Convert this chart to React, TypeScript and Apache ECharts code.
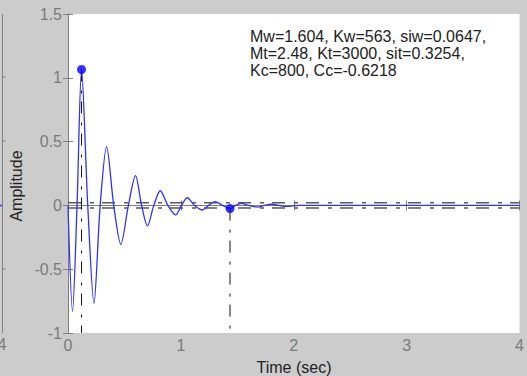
import React, { useEffect, useRef } from "react";
import * as echarts from "echarts";

// Step response (time in s, amplitude)
const timeVals = [0, 0.04, 0.08, 0.12, 0.175, 0.23, 0.285, 0.342, 0.405, 0.468, 0.535, 0.598, 0.652, 0.704, 0.76, 0.817, 0.885, 0.954, 1.005, 1.057, 1.12, 1.19, 1.245, 1.3, 1.37, 1.435, 1.485, 1.534, 1.6, 1.68, 1.74, 1.8, 1.87, 1.93, 2.05, 4.0];
const ampVals = [0, -0.83, 0.0, 1.065, 0.0, -0.767, 0.0, 0.46, 0.0, -0.305, 0.0, 0.233, 0.0, -0.16, 0.0, 0.115, 0.0, -0.075, 0.0, 0.06, 0.0, -0.036, 0.0, 0.03, 0.0, -0.025, 0.0, 0.016, 0.0, -0.013, 0.0, 0.009, 0.0, -0.008, 0.0, 0.0];

// Characteristic points (peak response, settling time)
const markerTimes = [0.12, 1.435];
const markerAmps = [1.065, -0.025];

// Settling band
const bandLevels = [0.02, -0.02];

const xTicks = [0, 1, 2, 3, 4];
const yTicks = [-1, -0.5, 0, 0.5, 1, 1.5];

const annotationLines = [
  "Mw=1.604, Kw=563, siw=0.0647,",
  "Mt=2.48, Kt=3000, sit=0.3254,",
  "Kc=800, Cc=-0.6218",
];

const FONT = "'Liberation Sans', Arial, Helvetica, sans-serif";
const AXIS_GRAY = "#7f7f7f";

export default function App() {
  const ref = useRef<HTMLDivElement>(null);
  useEffect(() => {
    document.body.style.margin = "0";
    document.body.style.background = "#cccccc";
    const chart = echarts.init(ref.current!, undefined, { renderer: "svg" });
    const curve = timeVals.map((t, i) => [t, ampVals[i]]);
    const markers = markerTimes.map((t, i) => [t, markerAmps[i]]);
    const axisCommon = {
      type: "value" as const,
      axisLine: { show: true, lineStyle: { color: AXIS_GRAY, width: 1 } },
      axisTick: { show: true, inside: true, length: 5, lineStyle: { color: AXIS_GRAY } },
      splitLine: { show: false },
    };
    const option: any = {
      animation: false,
      backgroundColor: "#cccccc",
      grid: { left: 68, right: 6, top: 14, bottom: 43, show: true, backgroundColor: "#ffffff", borderWidth: 0 },
      xAxis: [
        {
          ...axisCommon,
          min: xTicks[0],
          max: xTicks[xTicks.length - 1],
          interval: 1,
          position: "bottom",
          axisLabel: { color: "#7a7a7a", fontSize: 16, fontFamily: FONT, margin: 4 },
        },
        {
          ...axisCommon,
          min: xTicks[0],
          max: xTicks[xTicks.length - 1],
          interval: 1,
          position: "top",
          axisLabel: { show: false },
        },
      ],
      yAxis: [
        {
          ...axisCommon,
          min: yTicks[0],
          max: yTicks[yTicks.length - 1],
          interval: 0.5,
          position: "left",
          axisLabel: { color: "#7a7a7a", fontSize: 16, fontFamily: FONT, margin: 6 },
        },
        {
          ...axisCommon,
          min: yTicks[0],
          max: yTicks[yTicks.length - 1],
          interval: 0.5,
          position: "right",
          axisLabel: { show: false },
        },
      ],
      series: [
        ...bandLevels.map((lv) => ({
          type: "line",
          data: [[xTicks[0], lv], [xTicks[xTicks.length - 1], lv]],
          showSymbol: false,
          silent: true,
          lineStyle: { color: "#5a5a5a", width: 1.5, type: [13, 9, 4, 8] },
          z: 1,
        })),
        ...markers.map((m) => ({
          type: "line",
          data: [[m[0], m[1]], [m[0], yTicks[0]]],
          showSymbol: false,
          silent: true,
          lineStyle: { color: "#111111", width: 1, type: [12, 9, 3, 8] },
          z: 1,
        })),
        {
          type: "line",
          data: curve,
          showSymbol: false,
          smooth: 0.3,
          lineStyle: { color: "#3030ff", width: 1.3 },
          z: 2,
        },
        {
          type: "scatter",
          data: markers,
          symbol: "circle",
          symbolSize: 9,
          itemStyle: { color: "#0000ff" },
          z: 3,
        },
      ],
      graphic: [
        { type: "line", shape: { x1: 2.5, y1: 14, x2: 2.5, y2: 333 }, style: { stroke: AXIS_GRAY, lineWidth: 1 } },
        ...[77, 141, 269].map((y) => ({
          type: "line",
          shape: { x1: 2.5, y1: y, x2: 6, y2: y },
          style: { stroke: AXIS_GRAY, lineWidth: 1 },
        })),
        { type: "line", shape: { x1: 0, y1: 205.5, x2: 2, y2: 205.5 }, style: { stroke: "#3030ff", lineWidth: 1.3 } },
        {
          type: "text",
          x: 2,
          y: 344,
          style: { text: "4", fontSize: 16, fontFamily: FONT, fill: "#7a7a7a", align: "center", verticalAlign: "middle" },
        },
        {
          type: "text",
          x: 16,
          y: 186,
          rotation: Math.PI / 2,
          style: { text: "Amplitude", fontSize: 16, fontFamily: FONT, fill: "#222222", align: "center", verticalAlign: "middle" },
        },
        {
          type: "text",
          x: 294,
          y: 367,
          style: { text: "Time (sec)", fontSize: 16, fontFamily: FONT, fill: "#222222", align: "center", verticalAlign: "middle" },
        },
        {
          type: "text",
          x: 250,
          y: 28,
          style: {
            text: annotationLines.join("\n"),
            fontSize: 16,
            lineHeight: 17,
            fontFamily: FONT,
            fill: "#222222",
            align: "left",
            verticalAlign: "top",
          },
        },
      ],
    };
    chart.setOption(option);
    return () => chart.dispose();
  }, []);
  return <div ref={ref} style={{ width: 527, height: 376, background: "#cccccc" }} />;
}
